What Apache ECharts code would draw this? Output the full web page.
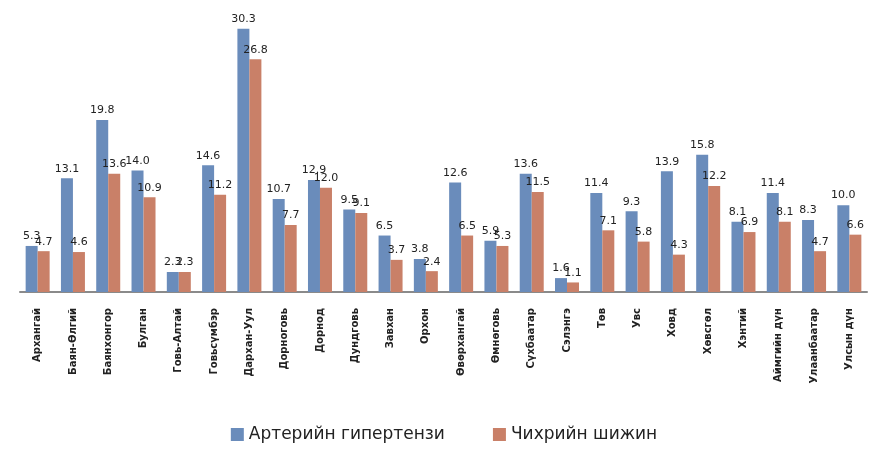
<!DOCTYPE html>
<html>
<head>
<meta charset="utf-8">
<script src="https://cdn.jsdelivr.net/npm/echarts@6/dist/echarts.min.js"></script>
<style>
  html, body { margin: 0; padding: 0; background: #fff; }
  #main { width: 888px; height: 449px; }
</style>
</head>
<body>
<div id="main"></div>
<script type="text/javascript">
    // аймгууд
    var categories = ['Архангай', 'Баян-Өлгий', 'Баянхонгор', 'Булган', 'Говь-Алтай', 'Говьсүмбэр',
        'Дархан-Уул', 'Дорноговь', 'Дорнод', 'Дундговь', 'Завхан', 'Орхон', 'Өвөрхангай',
        'Өмнөговь', 'Сүхбаатар', 'Сэлэнгэ', 'Төв', 'Увс', 'Ховд', 'Хөвсгөл', 'Хэнтий',
        'Аймгийн дүн', 'Улаанбаатар', 'Улсын дүн'];
    var hypertension = [5.3, 13.1, 19.8, 14.0, 2.3, 14.6, 30.3, 10.7, 12.9, 9.5, 6.5, 3.8, 12.6,
        5.9, 13.6, 1.6, 11.4, 9.3, 13.9, 15.8, 8.1, 11.4, 8.3, 10.0];
    var diabetes = [4.7, 4.6, 13.6, 10.9, 2.3, 11.2, 26.8, 7.7, 12.0, 9.1, 3.7, 2.4, 6.5,
        5.3, 11.5, 1.1, 7.1, 5.8, 4.3, 12.2, 6.9, 8.1, 4.7, 6.6];
    var seriesNames = ['Артерийн гипертензи', 'Чихрийн шижин'];

    var myChart = echarts.init(document.getElementById('main'));

    var labelStyle = {
        show: true,
        position: 'top',
        distance: 4,
        fontSize: 11,
        color: '#222',
        fontFamily: 'DejaVu Sans',
        formatter: function (p) { return p.value.toFixed(1); }
    };

    var option = {
        animation: false,
        textStyle: { fontFamily: 'DejaVu Sans' },
        grid: { left: 20, right: 21, top: 14, bottom: 157 },
        legend: {
            bottom: 1,
            left: 'center',
            itemWidth: 13,
            itemHeight: 13,
            itemGap: 48,
            icon: 'rect',
            textStyle: { fontSize: 17, color: '#222' },
            data: seriesNames
        },
        xAxis: {
            type: 'category',
            data: categories,
            axisLine: { lineStyle: { color: '#8a8a8a', width: 2 } },
            axisTick: { show: false },
            axisLabel: {
                rotate: 90,
                interval: 0,
                margin: 16,
                fontSize: 10,
                fontWeight: 'bold',
                color: '#222'
            }
        },
        yAxis: {
            type: 'value',
            min: 0,
            max: 32,
            show: false,
            splitLine: { show: false }
        },
        series: [{
            name: seriesNames[0],
            type: 'bar',
            data: hypertension,
            barGap: '0%',
            barCategoryGap: '32%',
            itemStyle: { color: '#6a8cbb' },
            label: labelStyle
        }, {
            name: seriesNames[1],
            type: 'bar',
            data: diabetes,
            itemStyle: { color: '#c98068' },
            label: labelStyle
        }]
    };
    myChart.setOption(option, true);
</script>
</body>
</html>
